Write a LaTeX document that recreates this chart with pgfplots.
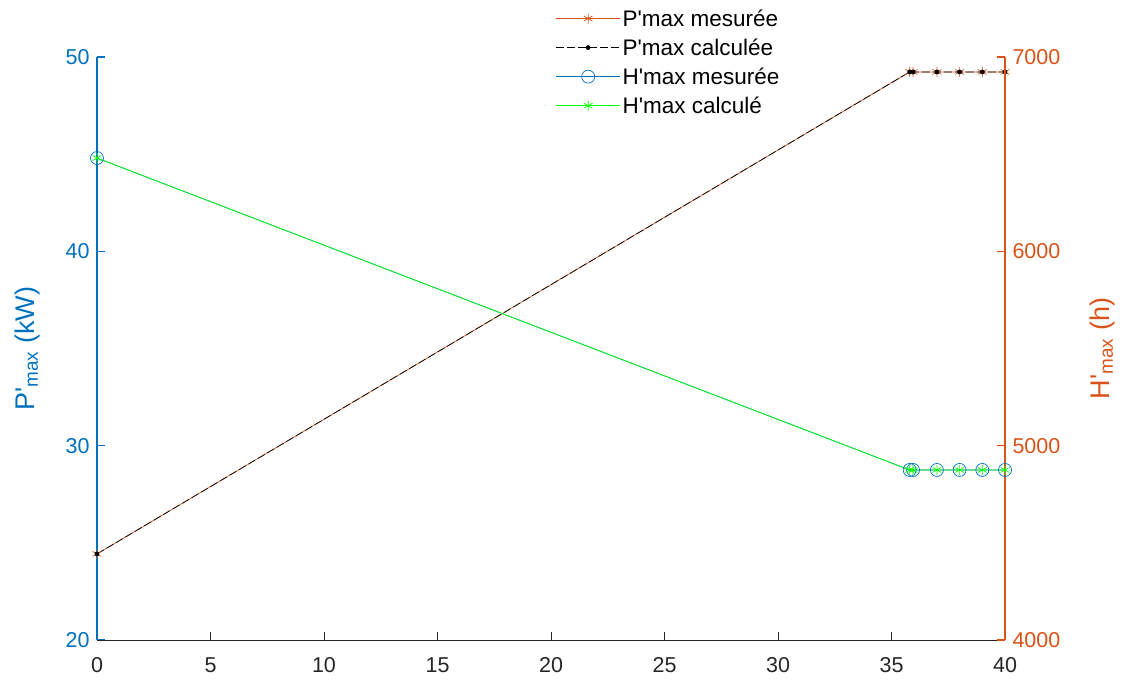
\documentclass[border=0pt]{standalone}
\usepackage{pgfplots}
\pgfplotsset{compat=1.18}
\usepackage{fontspec}
\setmainfont{Liberation Sans}
\newcommand\q{\textquotesingle}
\definecolor{mblue}{RGB}{0,114,189}
\definecolor{morange}{RGB}{217,83,25}
\definecolor{mgreen}{RGB}{0,255,0}
\definecolor{mgray}{RGB}{38,38,38}
\begin{document}
\begin{tikzpicture}
\useasboundingbox (-97pt,-40pt) rectangle (1029pt,640pt);
\pgfplotsset{
  every axis/.append style={
    scale only axis, width=908pt, height=583pt,
    xmin=0, xmax=40,
    /pgf/number format/assume math mode=true,
    /pgf/number format/1000 sep={},
    tick label style={font=\fontsize{21.5}{24}\selectfont},
    label style={font=\fontsize{27}{30}\selectfont},
  }
}
\begin{axis}[
  every non boxed x axis/.style={}, every non boxed y axis/.style={},
  axis y line*=left, axis x line*=bottom,
  ytick pos=left, xtick pos=bottom,
  tick align=inside, major tick length=8pt,
  ymin=20, ymax=50, ytick={20,30,40,50},
  xtick={0,5,...,40},
  y axis line style={mblue, line width=1.3pt}, x axis line style={mgray, line width=1pt},
  yticklabel style={text=mblue, xshift=-4pt}, xticklabel style={text=mgray, yshift=-14pt},
  ytick style={mblue, line width=1.3pt}, xtick style={mgray, line width=1pt},
  ylabel={P\q\textsubscript{max} (kW)},
  ylabel style={text=mblue, at={(axis description cs:-0.077,0.5)}, anchor=center},
]
\addplot[morange, line width=0.7pt, mark=asterisk, mark size=5pt, mark options={solid}]
coordinates {(0,24.43) (35.8,49.23) (35.95,49.23) (37,49.23) (38,49.23) (39,49.23) (40,49.23)};
\addplot[black, dash pattern=on 8pt off 3pt, line width=0.7pt, mark=*, mark size=2pt, mark options={solid}]
coordinates {(0,24.43) (35.8,49.23) (35.95,49.23) (37,49.23) (38,49.23) (39,49.23) (40,49.23)};
\end{axis}
\begin{axis}[
  every non boxed x axis/.style={}, every non boxed y axis/.style={},
  axis y line*=right, axis x line=none,
  ytick pos=right,
  tick align=inside, major tick length=8pt,
  ymin=4000, ymax=7000, ytick={4000,5000,6000,7000},
  y axis line style={morange, line width=1.3pt},
  yticklabel style={text=morange, xshift=4pt}, ytick style={morange, line width=1.3pt},
  ylabel={H\q\textsubscript{max} (h)},
  ylabel style={text=morange, at={(axis description cs:1.107,0.5)}, anchor=center, rotate=0},
  legend style={draw=none, fill=none, at={(0.504,1.087)}, anchor=north west,
    font=\fontsize{22.5}{25}\selectfont, row sep=7pt, legend cell align=left,
    inner sep=1pt},
  legend image code/.code={\draw[mark repeat=2,mark phase=2] plot coordinates {(0pt,0pt) (32pt,0pt) (64pt,0pt)};},
]
\addlegendimage{morange, line width=0.7pt, mark=asterisk, mark size=5pt, mark options={solid}}
\addlegendentry{P\q max mesurée}
\addlegendimage{black, dash pattern=on 8pt off 3pt, line width=0.7pt, mark=*, mark size=2pt, mark options={solid}}
\addlegendentry{P\q max calculée}
\addplot[mblue, line width=0.7pt, mark=o, mark size=6.5pt]
coordinates {(0,6480) (35.8,4875) (35.95,4875) (37,4875) (38,4875) (39,4875) (40,4875)};
\addlegendentry{H\q max mesurée}
\addplot[mgreen, line width=0.7pt, mark=asterisk, mark size=5pt]
coordinates {(0,6480) (35.8,4875) (35.95,4875) (37,4875) (38,4875) (39,4875) (40,4875)};
\addlegendentry{H\q max calculé}
\end{axis}
\end{tikzpicture}
\end{document}
